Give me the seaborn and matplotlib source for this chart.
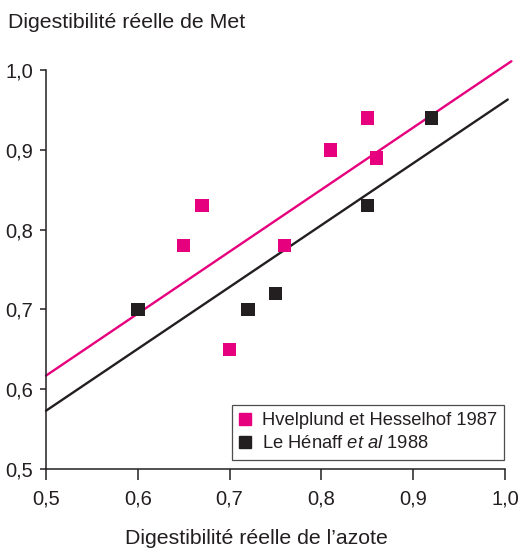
import matplotlib
matplotlib.use("Agg")
import matplotlib.pyplot as plt
import seaborn as sns
import pandas as pd
from matplotlib.lines import Line2D

sns.set_theme(style="white")
plt.rcParams['font.family'] = ['Liberation Sans', 'DejaVu Sans']
plt.rcParams['mathtext.fontset'] = 'custom'
plt.rcParams['mathtext.rm'] = 'Liberation Sans'
plt.rcParams['mathtext.it'] = 'Liberation Sans:italic'

# data
hvel_x = [0.65, 0.67, 0.70, 0.76, 0.81, 0.85, 0.86]
hvel_y = [0.78, 0.83, 0.65, 0.78, 0.90, 0.94, 0.89]
lehen_x = [0.60, 0.72, 0.75, 0.85, 0.92]
lehen_y = [0.70, 0.70, 0.72, 0.83, 0.94]

# regression lines (ends)
hvel_fit_x = [0.5, 1.007]
hvel_fit = [0.617, 1.011]
lehen_fit_x = [0.5, 1.003]
lehen_fit = [0.573, 0.963]

ticks = [0.5, 0.6, 0.7, 0.8, 0.9, 1.0]
tick_labels = ["0,5", "0,6", "0,7", "0,8", "0,9", "1,0"]

PINK = "#E6007E"
BLACK = "#231F20"

lab_h = "Hvelplund et Hesselhof 1987"
lab_l = r"Le Hénaff $\mathit{et\ al}$ 1988"

df = pd.DataFrame({
    "x": hvel_x + lehen_x,
    "y": hvel_y + lehen_y,
    "src": [lab_h] * len(hvel_x) + [lab_l] * len(lehen_x),
})

fig = plt.figure(figsize=(5.18, 5.49), dpi=100)
ax = fig.add_axes([46 / 518, 1 - 469 / 549, 459 / 518, 399 / 549])

ax.plot(hvel_fit_x, hvel_fit, color=PINK, lw=1.7, clip_on=False, zorder=2)
ax.plot(lehen_fit_x, lehen_fit, color=BLACK, lw=1.7, clip_on=False, zorder=2)

sns.scatterplot(data=df, x="x", y="y", hue="src", palette=[PINK, BLACK],
                marker="s", s=95, linewidth=0, legend=False, ax=ax,
                zorder=3, clip_on=False)

ax.set_xlim(0.5, 1.0)
ax.set_ylim(0.5, 1.0)
ax.set_xticks(ticks)
ax.set_xticklabels(tick_labels)
ax.set_yticks(ticks)
ax.set_yticklabels(tick_labels)
ax.set_xlabel("")
ax.set_ylabel("")
for s in ["top", "right"]:
    ax.spines[s].set_visible(False)
for s in ["left", "bottom"]:
    ax.spines[s].set_color(BLACK)
    ax.spines[s].set_linewidth(1.1)
ax.tick_params(axis="x", direction="out", length=8, width=1.1, color=BLACK,
               labelsize=14.5, pad=7, labelcolor=BLACK, bottom=True)
ax.tick_params(axis="y", direction="out", length=4.5, width=1.1, color=BLACK,
               labelsize=14.5, pad=5, labelcolor=BLACK, left=True)

handles = [
    Line2D([], [], marker="s", color=PINK, ls="", markersize=8.5),
    Line2D([], [], marker="s", color=BLACK, ls="", markersize=8.5),
]
leg = ax.legend(handles, [lab_h, lab_l], loc="lower right",
                bbox_to_anchor=(1.018, 0.0), fontsize=13.2, frameon=True,
                fancybox=False, edgecolor=BLACK, handlelength=0.6,
                handletextpad=0.6, borderpad=0.4, labelspacing=0.35,
                borderaxespad=0.5)
leg.get_frame().set_linewidth(0.9)
for t in leg.get_texts():
    t.set_color(BLACK)

fig.text(8 / 518, 1 - 28 / 549, "Digestibilité réelle de Met", fontsize=15.3,
         color=BLACK, ha="left", va="baseline")
fig.text(256 / 518, 1 - 544 / 549, "Digestibilité réelle de l’azote",
         fontsize=15.3, color=BLACK, ha="center", va="baseline")

fig.savefig("out.png", dpi=100)
